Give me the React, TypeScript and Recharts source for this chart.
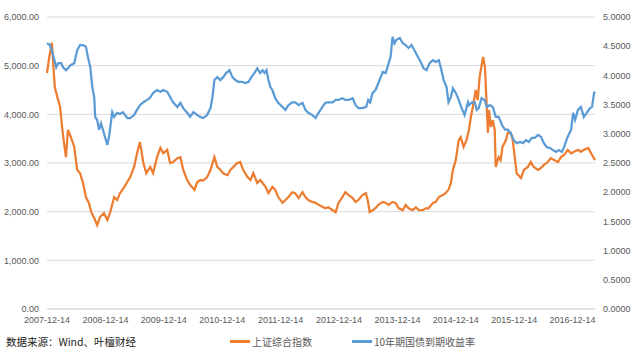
import { LineChart, Line, XAxis, YAxis, CartesianGrid } from 'recharts';

// x positions are months since 2007-12-14
const yearLabels = [
  '2007-12-14', '2008-12-14', '2009-12-14', '2010-12-14', '2011-12-14',
  '2012-12-14', '2013-12-14', '2014-12-14', '2015-12-14', '2016-12-14',
];
const yearTicks = [0, 12, 24, 36, 48, 60, 72, 84, 96, 108];
const leftTicks = [0, 1000, 2000, 3000, 4000, 5000, 6000];
const rightTicks = [0, 0.5, 1, 1.5, 2, 2.5, 3, 3.5, 4, 4.5, 5];

const sseMonths = [
  0, 0.5, 1.0, 1.6, 2.1, 2.7, 3.1, 3.5, 3.9, 4.3, 4.9, 5.6, 6.2, 6.8, 7.4, 8.0, 8.6, 9.1, 9.7, 10.3,
  10.9, 11.7, 12.4, 13.0, 13.8, 14.4, 15.0, 15.9, 16.5, 17.1, 17.9, 18.5, 19.1, 19.8, 20.4, 21.2, 21.8, 22.6, 23.3, 23.9,
  24.7, 25.3, 25.9, 26.8, 27.4, 28.0, 28.8, 29.4, 30.3, 30.9, 31.5, 32.1, 32.9, 33.6, 34.4, 35.0, 35.6, 36.2, 37.1, 37.7,
  38.3, 39.1, 39.7, 40.3, 41.2, 41.8, 42.4, 43.2, 43.8, 44.3, 44.9, 45.5, 46.3, 46.9, 47.5, 48.4, 49.0, 49.6, 50.4, 51.0,
  51.7, 52.5, 53.1, 53.7, 54.5, 55.2, 55.8, 56.6, 57.2, 57.8, 58.7, 59.3, 59.9, 60.7, 61.3, 62.0, 62.8, 63.4, 64.0, 64.8,
  65.5, 65.9, 66.3, 66.9, 67.5, 68.1, 69.0, 69.6, 70.2, 71.0, 71.6, 72.3, 73.1, 73.7, 74.3, 75.1, 75.8, 76.4, 77.2, 77.8,
  78.4, 79.3, 79.9, 80.5, 81.3, 81.9, 82.5, 83.0, 83.4, 84.0, 84.6, 85.0, 85.6, 86.2, 86.7, 87.1, 87.5, 88.1, 88.5, 88.9,
  89.6, 90.0, 90.2, 90.6, 90.8, 91.2, 91.6, 92.0, 92.2, 92.8, 93.2, 93.6, 94.3, 94.7, 95.3, 95.7, 96.1, 96.5, 97.4, 98.0,
  98.8, 99.4, 100.0, 100.9, 101.5, 102.1, 102.9, 103.5, 104.2, 105.0, 105.6, 106.2, 107.0, 107.7, 108.3, 109.1, 109.7, 110.3, 111.2, 111.8,
  112.6,
];
const sseValues = [
  4850, 5200, 5470, 4560, 4360, 4150, 3740, 3410, 3120, 3680, 3530, 3330, 2860, 2790, 2590, 2300, 2180, 1990, 1870, 1725,
  1890, 1970, 1830, 1990, 2300, 2240, 2380, 2510, 2610, 2710, 2920, 3200, 3430, 3000, 2790, 2920, 2790, 3120, 3310, 3200,
  3270, 3000, 3020, 3100, 3120, 2860, 2650, 2550, 2450, 2610, 2650, 2640, 2710, 2860, 3120, 2920, 2860, 2790, 2750, 2860,
  2920, 3000, 3020, 2860, 2710, 2650, 2790, 2590, 2650, 2590, 2510, 2380, 2510, 2450, 2300, 2180, 2240, 2300, 2400, 2380,
  2280, 2400, 2300, 2240, 2200, 2180, 2140, 2100, 2070, 2090, 2030, 1990, 2180, 2300, 2400, 2340, 2280, 2200, 2240, 2340,
  2380, 2240, 1990, 2030, 2070, 2140, 2200, 2180, 2140, 2200, 2180, 2070, 2030, 2140, 2070, 2030, 2090, 2030, 2030, 2070,
  2070, 2180, 2200, 2300, 2340, 2380, 2450, 2590, 2860, 3060, 3470, 3530, 3330, 3470, 3680, 3950, 4150, 4500, 4290, 4770,
  5180, 4970, 4500, 3620, 4090, 3740, 3880, 3680, 2920, 3120, 3060, 3330, 3470, 3620, 3620, 3470, 3120, 2790, 2690, 2860,
  2920, 3020, 2920, 2860, 2900, 2960, 3020, 3100, 3060, 3020, 3120, 3160, 3270, 3200, 3230, 3270, 3230, 3270, 3310, 3200,
  3060,
];

const bondMonths = [
  0, 0.6, 1.0, 1.4, 1.9, 2.3, 2.9, 3.3, 3.9, 4.3, 4.9, 5.6, 6.2, 6.8, 7.4, 8.0, 8.4, 8.9, 9.3, 9.7,
  9.9, 10.3, 10.7, 11.1, 11.5, 11.9, 12.4, 12.8, 13.2, 13.4, 13.8, 14.4, 15.0, 15.6, 16.5, 17.1, 17.9, 18.5, 19.1, 19.8,
  20.6, 21.2, 21.8, 22.6, 23.3, 23.9, 24.7, 25.3, 25.9, 26.8, 27.4, 28.0, 28.8, 29.4, 30.1, 30.9, 31.5, 32.1, 32.9, 33.6,
  34.0, 34.4, 35.0, 35.6, 36.2, 36.8, 37.5, 38.1, 38.7, 39.3, 40.1, 40.8, 41.4, 42.0, 42.6, 43.2, 43.8, 44.3, 44.7, 45.1,
  45.5, 45.9, 46.3, 46.9, 47.5, 48.4, 49.0, 49.6, 50.4, 51.0, 51.7, 52.5, 53.1, 53.7, 54.5, 55.2, 55.8, 56.6, 57.2, 57.8,
  58.7, 59.3, 59.9, 60.7, 61.3, 62.0, 62.8, 63.4, 64.0, 64.8, 65.6, 66.0, 66.4, 66.9, 67.5, 68.1, 69.0, 69.6, 70.2, 70.6,
  71.0, 71.4, 71.8, 72.5, 73.1, 73.7, 74.3, 74.9, 75.5, 76.2, 76.8, 77.4, 78.0, 78.6, 79.3, 79.9, 80.5, 80.9, 81.5, 82.1,
  82.5, 83.0, 83.4, 84.0, 84.6, 85.2, 85.8, 86.5, 86.7, 87.3, 87.9, 88.3, 88.7, 89.3, 89.9, 90.4, 91.0, 91.6, 92.2, 92.8,
  93.5, 94.1, 94.7, 95.3, 95.9, 96.5, 97.2, 97.8, 98.4, 99.0, 99.6, 100.2, 100.9, 101.5, 102.1, 102.7, 103.3, 104.0, 104.6, 105.2,
  105.8, 106.2, 106.6, 107.0, 107.7, 108.1, 108.5, 109.1, 109.7, 110.3, 110.9, 111.6, 112.0, 112.4, 112.6,
];
const bondValues = [
  4.55, 4.52, 4.43, 4.30, 4.14, 4.21, 4.21, 4.14, 4.09, 4.12, 4.18, 4.21, 4.43, 4.52, 4.52, 4.49, 4.32, 4.14, 3.80, 3.63,
  3.29, 3.24, 3.07, 3.18, 3.07, 2.95, 2.81, 2.98, 3.24, 3.37, 3.29, 3.36, 3.34, 3.37, 3.27, 3.27, 3.32, 3.41, 3.49, 3.54,
  3.58, 3.62, 3.70, 3.75, 3.72, 3.75, 3.72, 3.63, 3.54, 3.46, 3.53, 3.44, 3.36, 3.29, 3.37, 3.32, 3.29, 3.27, 3.32, 3.44,
  3.63, 3.92, 3.97, 3.92, 3.97, 4.04, 4.09, 3.97, 3.92, 3.89, 3.89, 3.87, 3.89, 3.97, 4.04, 4.12, 4.04, 4.09, 4.04, 4.09,
  3.92, 3.80, 3.75, 3.61, 3.53, 3.46, 3.41, 3.49, 3.54, 3.54, 3.49, 3.53, 3.41, 3.36, 3.32, 3.27, 3.36, 3.46, 3.53, 3.54,
  3.54, 3.58, 3.58, 3.61, 3.58, 3.58, 3.61, 3.49, 3.44, 3.44, 3.46, 3.58, 3.54, 3.70, 3.75, 3.87, 4.06, 4.04, 4.21, 4.32,
  4.66, 4.55, 4.61, 4.64, 4.55, 4.52, 4.47, 4.52, 4.43, 4.32, 4.23, 4.12, 4.09, 4.21, 4.26, 4.23, 4.26, 4.14, 3.92, 3.80,
  3.54, 3.63, 3.78, 3.70, 3.58, 3.44, 3.32, 3.54, 3.49, 3.54, 3.54, 3.41, 3.44, 3.61, 3.58, 3.46, 3.49, 3.46, 3.29, 3.29,
  3.15, 3.07, 3.07, 3.01, 2.89, 2.84, 2.86, 2.84, 2.89, 2.86, 2.93, 2.93, 2.98, 2.95, 2.84, 2.77, 2.76, 2.72, 2.69, 2.72,
  2.69, 2.76, 2.86, 2.95, 3.07, 3.36, 3.24, 3.41, 3.46, 3.29, 3.36, 3.44, 3.46, 3.70, 3.72,
];

const sseData = sseMonths.map((t, i) => ({ t, v: sseValues[i] }));
const bondData = bondMonths.map((t, i) => ({ t, v: bondValues[i] }));

const ORANGE = '#ED7D31';
const BLUE = '#5B9BD5';
const tickStyle = { fontSize: 9, fill: '#595959', fontFamily: 'Liberation Sans, Arial, sans-serif' };
const cjkFont = '"Noto Sans CJK SC", sans-serif';

export default function App() {
  return (
    <div style={{ position: 'absolute', left: 0, top: 0, width: 640, height: 352, background: '#fff' }}>
      <LineChart width={640} height={352} margin={{ top: 17, right: 0, bottom: 23, left: 0 }}>
        <CartesianGrid yAxisId="left" vertical={false} stroke="#d9d9d9" />
        <XAxis
          type="number"
          dataKey="t"
          domain={[0, 112.6]}
          ticks={yearTicks}
          tickFormatter={(v: number) => yearLabels[yearTicks.indexOf(v)] ?? ''}
          tick={tickStyle}
          tickLine={false}
          axisLine={{ stroke: '#d9d9d9' }}
          height={20}
          allowDuplicatedCategory={false}
        />
        <YAxis
          yAxisId="left"
          width={47}
          domain={[0, 6000]}
          ticks={leftTicks}
          tickFormatter={(v: number) => v.toLocaleString('en-US', { minimumFractionDigits: 2 })}
          tick={tickStyle}
          tickLine={false}
          axisLine={false}
        />
        <YAxis
          yAxisId="right"
          orientation="right"
          width={45}
          domain={[0, 5]}
          ticks={rightTicks}
          tickFormatter={(v: number) => v.toFixed(4)}
          tick={{ ...tickStyle, textAnchor: 'start' }}
          tickLine={false}
          axisLine={false}
        />
        <Line
          yAxisId="left"
          data={sseData}
          dataKey="v"
          type="linear"
          stroke={ORANGE}
          strokeWidth={2.25}
          dot={false}
          isAnimationActive={false}
          name="上证综合指数"
        />
        <Line
          yAxisId="right"
          data={bondData}
          dataKey="v"
          type="linear"
          stroke={BLUE}
          strokeWidth={2.25}
          dot={false}
          isAnimationActive={false}
          name="10年期国债到期收益率"
        />
      </LineChart>
      <div style={{ position: 'absolute', left: 6, top: 334, fontSize: 10.5, color: '#222', fontFamily: cjkFont, whiteSpace: 'nowrap' }}>
        数据来源：Wind、叶檀财经
      </div>
      <div style={{ position: 'absolute', left: 230, top: 334, display: 'flex', alignItems: 'center', fontSize: 10, color: '#595959', fontFamily: cjkFont, whiteSpace: 'nowrap' }}>
        <span style={{ display: 'inline-block', width: 20, height: 2.5, background: ORANGE, marginRight: 2 }} />
        <span>上证综合指数</span>
        <span style={{ display: 'inline-block', width: 20, height: 2.5, background: BLUE, marginLeft: 40, marginRight: 2 }} />
        <span>10年期国债到期收益率</span>
      </div>
    </div>
  );
}
